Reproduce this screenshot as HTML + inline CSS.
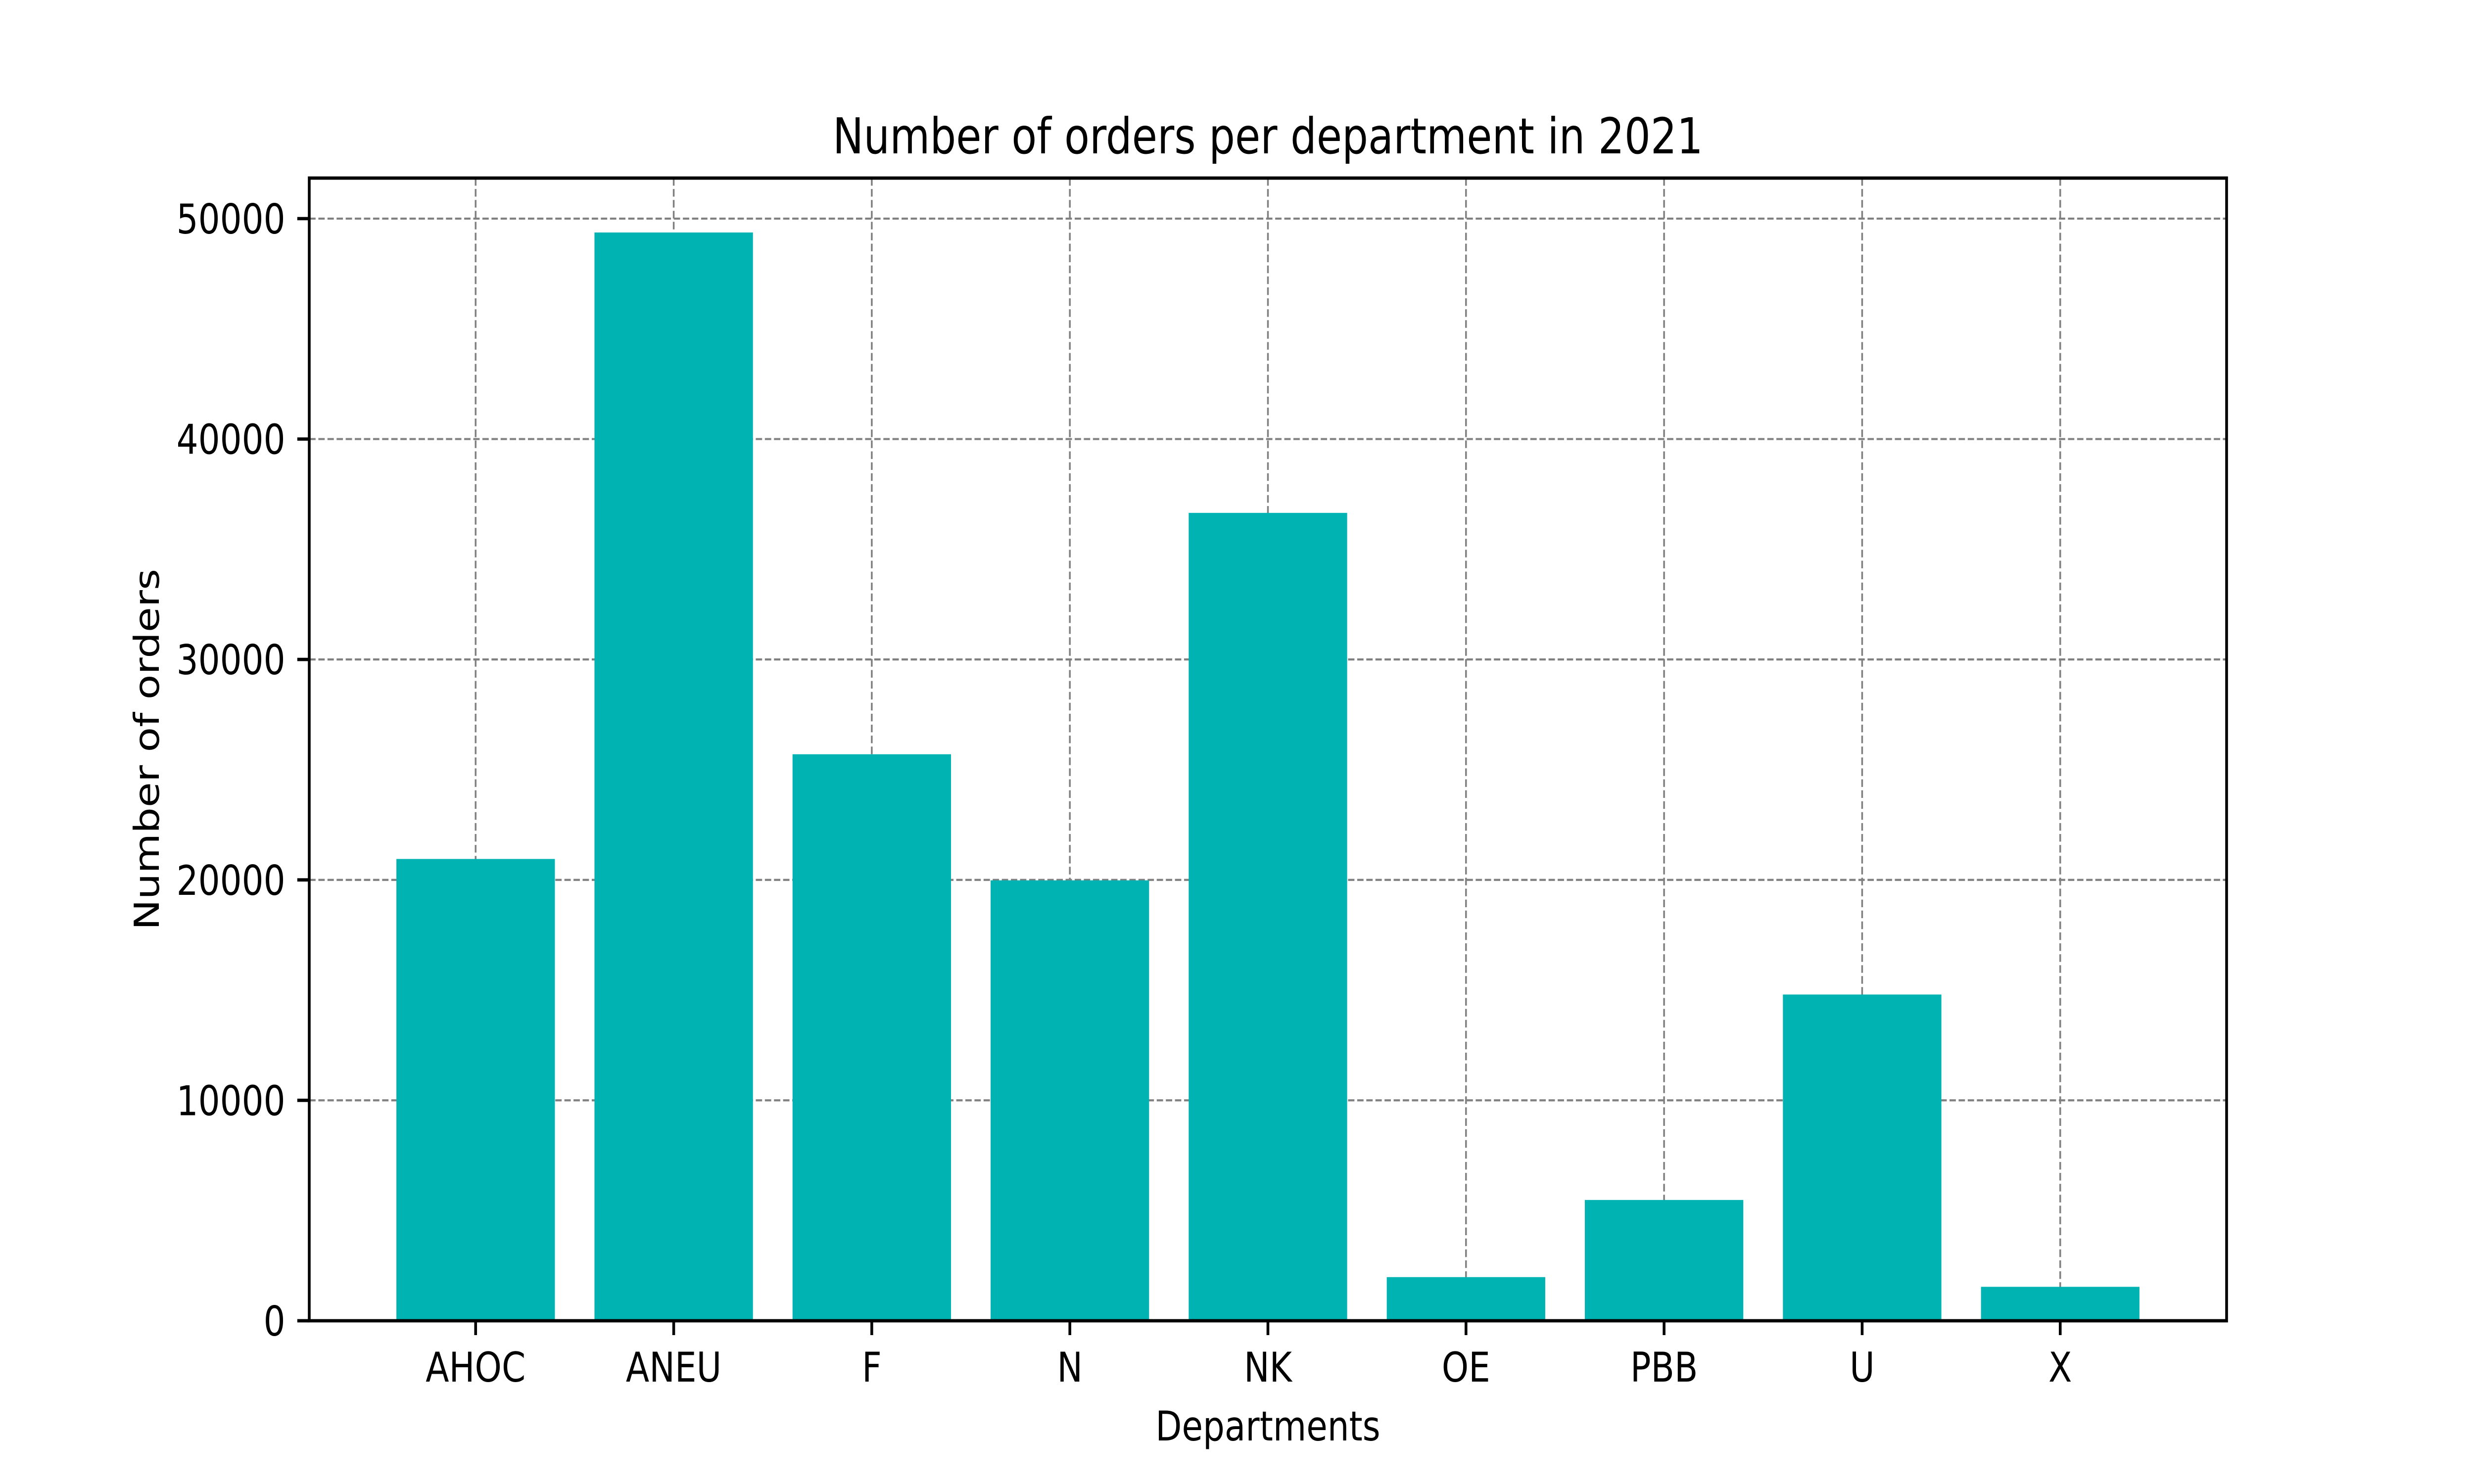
<!DOCTYPE html>
<html><head><meta charset="utf-8">
<style>
html,body{margin:0;padding:0;background:#fff;overflow:hidden;width:100%;height:100%;}
svg{display:block;width:100vw;height:100vh;font-family:"DejaVu Sans","Liberation Sans",sans-serif;}
</style></head>
<body>
<svg id="chart" viewBox="0 0 6000 3000" preserveAspectRatio="none" xmlns="http://www.w3.org/2000/svg">
<rect x="0" y="0" width="6000" height="3000" fill="#fff"/>
<g id="grid"></g>
<g id="bars"></g>
<g id="axes"></g>
<text x="3075" y="310" font-size="100" text-anchor="middle">Number of orders per department in 2021</text>
<text x="3075" y="2912" font-size="83" text-anchor="middle">Departments</text>
<text transform="translate(385,1515) rotate(-90)" x="0" y="0" font-size="83" text-anchor="middle">Number of orders</text>
</svg>
<script>
const categories = ["AHOC","ANEU","F","N","NK","OE","PBB","U","X"];
const orders = [20950, 49370, 25700, 19980, 36650, 1980, 5480, 14800, 1540];
const yTicks = [0, 10000, 20000, 30000, 40000, 50000];
const yTickLabels = ["0","10000","20000","30000","40000","50000"];

const NS = "http://www.w3.org/2000/svg";
const L = 750, R = 5400, T = 360, B = 2670;
const barW = 0.8;
const xMin = -0.5 + (1 - barW) / 2 - 0.05 * (categories.length - 1 + barW);
const xMax = categories.length - 1 + barW / 2 + 0.05 * (categories.length - 1 + barW);
const yMax = Math.max(...orders) * 1.05;
function xs(v){ return L + (v - xMin) / (xMax - xMin) * (R - L); }
function ys(v){ return B - v / yMax * (B - T); }
function mk(tag, attrs, parent){
  const e = document.createElementNS(NS, tag);
  for (const k in attrs) e.setAttribute(k, attrs[k]);
  parent.appendChild(e);
  return e;
}
const grid = document.getElementById('grid');
const bars = document.getElementById('bars');
const axes = document.getElementById('axes');
const gridStyle = {stroke:"#808080", "stroke-width":4.2, "stroke-dasharray":"15.4,6.7", fill:"none"};

yTicks.forEach((t, i) => {
  const y = ys(t);
  const g = mk('line', Object.assign({x1:L, x2:R, y1:y, y2:y}, gridStyle), grid);
  
  
  const tk = mk('line', {x1:L-29, x2:L, y1:y, y2:y, stroke:"#000", "stroke-width":6.7}, axes);
  
  
  const lb = mk('text', {x:L-58, y:y+30, "font-size":83, "text-anchor":"end"}, axes);
  lb.textContent = yTickLabels[i];
  
  
});

categories.forEach((c, i) => {
  const x = xs(i);
  const g = mk('line', Object.assign({x1:x, x2:x, y1:T, y2:B}, gridStyle), grid);
  
  
  const x0 = xs(i - barW/2), x1 = xs(i + barW/2);
  const y = ys(orders[i]);
  const r = mk('rect', {x:x0, y:y, width:x1-x0, height:B-y, fill:"#00b3b3"}, bars);
  
  
  const tk = mk('line', {x1:x, x2:x, y1:B, y2:B+29, stroke:"#000", "stroke-width":6.7}, axes);
  
  
  const lb = mk('text', {x:x, y:2793, "font-size":83, "text-anchor":"middle"}, axes);
  lb.textContent = c;
  
  
});

const frame = mk('rect', {x:L, y:T, width:R-L, height:B-T, fill:"none", stroke:"#000", "stroke-width":6.7}, axes);


</script>
</body></html>
